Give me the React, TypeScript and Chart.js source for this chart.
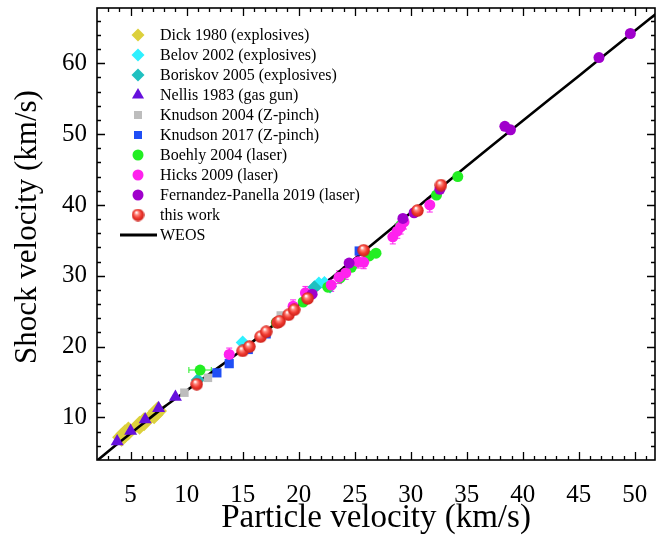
import React, { useEffect, useRef } from "react";
import { Chart, registerables } from "chart.js";
Chart.register(...registerables);

// ---- data (particle velocity up, shock velocity Us; km/s) ----
const dickUp = [4.2, 4.5, 4.8, 5.8, 6.2, 7.1, 7.4];
const dickUs = [7.2, 7.7, 8.1, 8.9, 9.4, 10.4, 10.9];

const belovUp = [15.0, 21.8, 22.3];
const belovUs = [20.6, 28.9, 29.0];

const boriskovUp = [11.0, 21.4, 22.8];
const boriskovUs = [15.3, 28.4, 28.5];

const nellisUp = [3.8, 5.0, 6.3, 7.5, 9.0];
const nellisUs = [6.6, 8.1, 9.7, 11.3, 12.9];

const knudson04Up = [9.8, 11.9, 18.4];
const knudson04Us = [13.5, 15.6, 24.4];

const knudson17Up = [12.7, 13.8, 15.5, 17.1, 25.4];
const knudson17Us = [16.3, 17.6, 19.6, 21.8, 33.5];

const boehlyUp = [11.2, 18.0, 20.4, 22.6, 23.7, 24.7, 26.3, 26.9, 29.1, 32.3, 34.2];
const boehlyUs = [16.7, 23.4, 26.3, 28.4, 29.7, 31.2, 32.8, 33.2, 37.1, 41.4, 44.0];
const boehlyUpErr = [1.0, 0, 0, 0, 0, 0, 0, 0, 0, 0, 0];

const hicksUp = [13.8, 19.5, 20.6, 22.9, 23.6, 24.2, 25.3, 25.8, 28.4, 28.8, 29.1, 29.4, 31.7];
const hicksUs = [18.9, 25.7, 27.6, 28.7, 29.8, 30.4, 32.0, 31.9, 35.5, 36.3, 36.9, 37.6, 40.0];
const hicksUsErr = [0.9, 0.9, 0.9, 0.9, 0.9, 0.9, 0.9, 0.9, 1.0, 1.0, 1.0, 1.0, 1.0];

const fpUp = [21.2, 24.5, 29.3, 30.3, 32.6, 38.4, 38.9, 46.8, 49.6];
const fpUs = [27.4, 31.8, 38.1, 38.9, 42.2, 51.1, 50.6, 60.8, 64.2];

const thisUp = [10.9, 15.0, 15.6, 16.6, 17.1, 18.1, 18.3, 19.1, 19.6, 20.8, 25.8, 30.6, 32.7];
const thisUs = [14.7, 19.4, 20.0, 21.4, 22.1, 23.4, 23.6, 24.5, 25.2, 26.8, 33.6, 39.2, 42.8];

const weosUp = [2, 4, 6, 8, 10, 12, 15, 20, 25, 30, 35, 40, 45, 50, 52];
const weosUs = [3.9, 6.5, 9.0, 11.5, 13.8, 16.1, 19.6, 25.9, 32.4, 38.9, 45.5, 51.9, 58.2, 64.6, 67.1];

const xTicks = [5, 10, 15, 20, 25, 30, 35, 40, 45, 50];
const yTicks = [10, 20, 30, 40, 50, 60];

const xTitle = "Particle velocity (km/s)";
const yTitle = "Shock velocity (km/s)";

const FONT = "'Liberation Serif', 'Times New Roman', serif";

function pts(xs: number[], ys: number[]) {
  return xs.map((x, i) => ({ x, y: ys[i] }));
}

function makeSphere(d: number) {
  const c = document.createElement("canvas");
  c.width = d;
  c.height = d;
  const g = c.getContext("2d")!;
  const r = d / 2;
  const grad = g.createRadialGradient(r * 0.75, r * 0.6, 0.5, r, r, r);
  grad.addColorStop(0, "#ffffff");
  grad.addColorStop(0.25, "#ff8a80");
  grad.addColorStop(0.6, "#f03a30");
  grad.addColorStop(1, "#c81e18");
  g.fillStyle = grad;
  g.beginPath();
  g.arc(r, r, r - 0.3, 0, Math.PI * 2);
  g.fill();
  return c;
}

export default function App() {
  const ref = useRef<HTMLCanvasElement | null>(null);

  useEffect(() => {
    if (!ref.current) return;
    const sphere = makeSphere(13);

    const legendItems = [
      { label: "Dick 1980 (explosives)", shape: "diamond", color: "#dcd03c", r: 6.5 },
      { label: "Belov 2002 (explosives)", shape: "diamond", color: "#2ef0ff", r: 6.5 },
      { label: "Boriskov 2005 (explosives)", shape: "diamond", color: "#1fc0c0", r: 6.5 },
      { label: "Nellis 1983 (gas gun)", shape: "triangle", color: "#6610dd", r: 7 },
      { label: "Knudson 2004 (Z-pinch)", shape: "square", color: "#bdbdbd", r: 4 },
      { label: "Knudson 2017 (Z-pinch)", shape: "square", color: "#1f4ef5", r: 4 },
      { label: "Boehly 2004 (laser)", shape: "circle", color: "#22ee22", r: 5.5 },
      { label: "Hicks 2009 (laser)", shape: "circle", color: "#ff22ee", r: 5.5 },
      { label: "Fernandez-Panella 2019 (laser)", shape: "circle", color: "#a000cc", r: 5.5 },
      { label: "this work", shape: "sphere", color: "#f03a30", r: 6 },
      { label: "WEOS", shape: "line", color: "#000", r: 0 },
    ];

    const errorBars: { xs: number[]; ys: number[]; xe?: number[]; ye?: number[]; color: string }[] = [
      { xs: boehlyUp, ys: boehlyUs, xe: boehlyUpErr, color: "#22ee22" },
      { xs: hicksUp, ys: hicksUs, ye: hicksUsErr, color: "#ff22ee" },
    ];

    const errPlugin = {
      id: "errbars",
      beforeDatasetsDraw(chart: any) {
        const { ctx, scales } = chart;
        const x = scales.x, y = scales.y;
        ctx.save();
        ctx.lineWidth = 1;
        for (const e of errorBars) {
          ctx.strokeStyle = e.color;
          e.xs.forEach((xv, i) => {
            const px = x.getPixelForValue(xv), py = y.getPixelForValue(e.ys[i]);
            if (e.xe && e.xe[i] > 0) {
              const a = x.getPixelForValue(xv - e.xe[i]), b = x.getPixelForValue(xv + e.xe[i]);
              ctx.beginPath();
              ctx.moveTo(a, py); ctx.lineTo(b, py);
              ctx.moveTo(a, py - 3); ctx.lineTo(a, py + 3);
              ctx.moveTo(b, py - 3); ctx.lineTo(b, py + 3);
              ctx.stroke();
            }
            if (e.ye && e.ye[i] > 0) {
              const a = y.getPixelForValue(e.ys[i] - e.ye[i]), b = y.getPixelForValue(e.ys[i] + e.ye[i]);
              ctx.beginPath();
              ctx.moveTo(px, a); ctx.lineTo(px, b);
              ctx.moveTo(px - 3, a); ctx.lineTo(px + 3, a);
              ctx.moveTo(px - 3, b); ctx.lineTo(px + 3, b);
              ctx.stroke();
            }
          });
        }
        ctx.restore();
      },
    };

    const framePlugin = {
      id: "frame",
      afterDraw(chart: any) {
        const { ctx, chartArea: a, scales } = chart;
        const x = scales.x, y = scales.y;
        ctx.save();
        ctx.strokeStyle = "#000";
        ctx.lineWidth = 1.6;
        ctx.strokeRect(a.left, a.top, a.right - a.left, a.bottom - a.top);
        ctx.lineWidth = 1.3;
        ctx.beginPath();
        for (let v = Math.ceil(x.min); v <= x.max; v++) {
          const px = Math.round(x.getPixelForValue(v)) + 0.5;
          if (px <= a.left + 1 || px >= a.right - 1) continue;
          const len = v % 5 === 0 ? 8 : 4;
          ctx.moveTo(px, a.bottom); ctx.lineTo(px, a.bottom - len);
          ctx.moveTo(px, a.top); ctx.lineTo(px, a.top + len);
        }
        for (let v = Math.ceil(y.min / 2) * 2; v <= y.max; v += 2) {
          const py = Math.round(y.getPixelForValue(v)) + 0.5;
          if (py <= a.top + 1 || py >= a.bottom - 1) continue;
          const len = v % 10 === 0 ? 8 : 4;
          ctx.moveTo(a.left, py); ctx.lineTo(a.left + len, py);
          ctx.moveTo(a.right, py); ctx.lineTo(a.right - len, py);
        }
        ctx.stroke();

        // y-axis title (rotated)
        ctx.save();
        ctx.translate(28, 227);
        ctx.rotate(-Math.PI / 2);
        ctx.font = `31px ${FONT}`;
        ctx.fillStyle = "#000";
        ctx.textAlign = "center";
        ctx.textBaseline = "middle";
        ctx.fillText(yTitle, 0, 0);
        ctx.restore();

        // legend
        const mx = 138, tx = 160;
        let ly = 35;
        ctx.font = `16px ${FONT}`;
        ctx.textBaseline = "middle";
        ctx.textAlign = "left";
        for (const it of legendItems) {
          ctx.fillStyle = it.color;
          ctx.beginPath();
          if (it.shape === "diamond") {
            ctx.moveTo(mx, ly - it.r); ctx.lineTo(mx + it.r, ly); ctx.lineTo(mx, ly + it.r); ctx.lineTo(mx - it.r, ly);
            ctx.closePath(); ctx.fill();
          } else if (it.shape === "triangle") {
            const h = it.r;
            ctx.moveTo(mx, ly - h); ctx.lineTo(mx + h * 0.866, ly + h * 0.5); ctx.lineTo(mx - h * 0.866, ly + h * 0.5);
            ctx.closePath(); ctx.fill();
          } else if (it.shape === "square") {
            ctx.fillRect(mx - it.r, ly - it.r, it.r * 2, it.r * 2);
          } else if (it.shape === "circle") {
            ctx.arc(mx, ly, it.r, 0, Math.PI * 2); ctx.fill();
          } else if (it.shape === "sphere") {
            ctx.drawImage(sphere, mx - 6.5, ly - 6.5);
          } else if (it.shape === "line") {
            ctx.strokeStyle = "#000"; ctx.lineWidth = 3;
            ctx.moveTo(120, ly); ctx.lineTo(157, ly); ctx.stroke();
          }
          ctx.fillStyle = "#000";
          ctx.fillText(it.label, tx, ly + 1);
          ly += 20;
        }
        ctx.restore();
      },
    };

    const sc = (label: string, xs: number[], ys: number[], color: string, style: any, radius: number, order: number) => ({
      type: "scatter" as const,
      label,
      data: pts(xs, ys),
      pointStyle: style,
      pointRadius: radius,
      pointHoverRadius: radius,
      pointBackgroundColor: color,
      pointBorderColor: color,
      pointBorderWidth: 0,
      backgroundColor: color,
      borderColor: color,
      showLine: false,
      order,
    });

    const chart = new Chart(ref.current, {
      type: "scatter",
      data: {
        datasets: [
          sc("Dick 1980 (explosives)", dickUp, dickUs, "#dcd03c", "rectRot", 9.5, 20),
          {
            type: "line" as const,
            label: "WEOS",
            data: pts(weosUp, weosUs),
            borderColor: "#000",
            borderWidth: 2.6,
            pointRadius: 0,
            cubicInterpolationMode: "monotone" as const,
            fill: false,
            order: 19,
          } as any,
          sc("Belov 2002 (explosives)", belovUp, belovUs, "#2ef0ff", "rectRot", 7, 18),
          sc("Boriskov 2005 (explosives)", boriskovUp, boriskovUs, "#1fc0c0", "rectRot", 7, 17),
          sc("Nellis 1983 (gas gun)", nellisUp, nellisUs, "#6610dd", "triangle", 7.5, 16),
          sc("Knudson 2004 (Z-pinch)", knudson04Up, knudson04Us, "#bdbdbd", "rect", 6, 15),
          sc("Knudson 2017 (Z-pinch)", knudson17Up, knudson17Us, "#1f4ef5", "rect", 6.5, 14),
          sc("Boehly 2004 (laser)", boehlyUp, boehlyUs, "#22ee22", "circle", 5.5, 13),
          sc("Hicks 2009 (laser)", hicksUp, hicksUs, "#ff22ee", "circle", 5.5, 12),
          sc("Fernandez-Panella 2019 (laser)", fpUp, fpUs, "#a000cc", "circle", 5.5, 11),
          sc("this work", thisUp, thisUs, "#f03a30", sphere, 6.5, 10),
        ] as any,
      },
      options: {
        animation: false,
        responsive: false,
        layout: { autoPadding: false, padding: { top: 8, right: 1, left: 0, bottom: 0 } },
        plugins: { legend: { display: false }, tooltip: { enabled: false } },
        scales: {
          x: {
            type: "linear",
            min: 2,
            max: 51.8,
            grid: { display: false, drawTicks: false },
            border: { display: false },
            afterBuildTicks: (s: any) => { s.ticks = xTicks.map((v) => ({ value: v })); },
            afterFit: (s: any) => { s.height = 75; s.paddingLeft = 0; s.paddingRight = 0; },
            ticks: { color: "#000", font: { family: FONT, size: 25 }, padding: 20, maxRotation: 0, autoSkip: false },
            title: {
              display: true,
              text: xTitle,
              color: "#000",
              font: { family: FONT, size: 33, lineHeight: 1 },
              padding: { top: 0, bottom: 0 },
            },
          },
          y: {
            type: "linear",
            min: 4,
            max: 67.8,
            grid: { display: false, drawTicks: false },
            border: { display: false },
            afterBuildTicks: (s: any) => { s.ticks = yTicks.map((v) => ({ value: v })); },
            afterFit: (s: any) => { s.width = 97; s.paddingTop = 0; s.paddingBottom = 0; },
            ticks: { color: "#000", font: { family: FONT, size: 25 }, padding: 10, autoSkip: false },
            title: { display: false },
          },
        },
      },
      plugins: [errPlugin, framePlugin],
    } as any);

    return () => chart.destroy();
  }, []);

  return (
    <div style={{ position: "absolute", left: 0, top: 0, width: 656, height: 535, background: "#fff" }}>
      <canvas ref={ref} width={656} height={535} style={{ display: "block" }} />
    </div>
  );
}
